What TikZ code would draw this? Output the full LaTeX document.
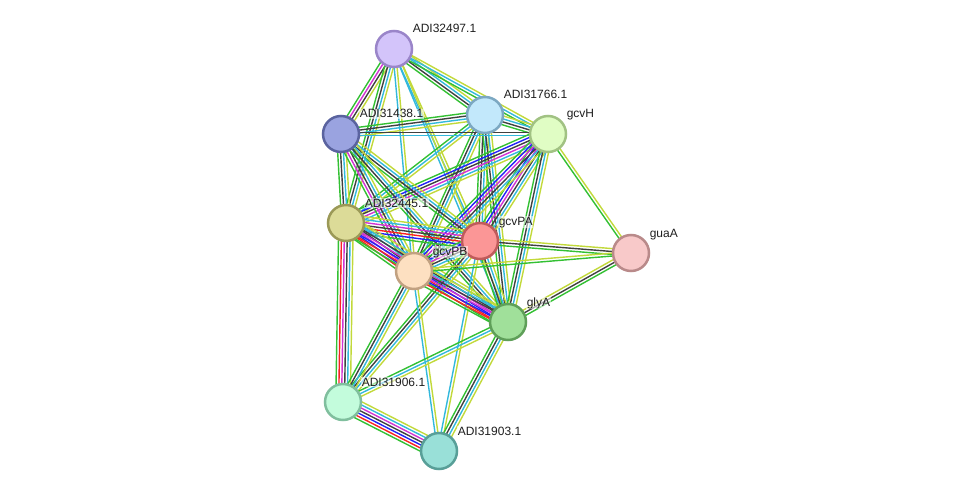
\documentclass[tikz,border=0pt]{standalone}
\usepackage{fontspec}
\setmainfont{Liberation Sans}
\usetikzlibrary{calc,backgrounds}

\definecolor{grn}{HTML}{33C033}
\definecolor{blk}{HTML}{404040}
\definecolor{cya}{HTML}{33B8DC}
\definecolor{ylw}{HTML}{C2D93A}
\definecolor{mag}{HTML}{D233D2}
\definecolor{blu}{HTML}{2222F8}
\definecolor{rd}{HTML}{F82222}

% one STRING link: a bundle of parallel lines, one per evidence colour
\newcommand{\link}[3]{%
  \foreach \c [count=\k] in {#3} {\xdef\nlines{\k}}%
  \foreach \c [count=\k] in {#3} {%
    \pgfmathsetmacro{\off}{(\k-(\nlines+1)/2)*2.9}%
    \draw[color=\c, line width=1.4pt] ($(#1)!\off pt!90:(#2)$) -- ($(#2)!\off pt!-90:(#1)$);
  }%
}

\begin{document}
\begin{tikzpicture}[x=1pt,y=-1pt]
		\tikzstyle{node}=[circle,line width=2.5pt,minimum size=36pt,inner sep=0pt]
		\tikzstyle{lbl}=[anchor=base west,xshift=-1.25pt,yshift=16pt,inner sep=0.6pt,
		                 fill=white,fill opacity=0.55,text opacity=1,
		                 font=\fontsize{12}{14}\selectfont,text=black!88]

		\useasboundingbox (0,0) rectangle (976,497);

		 \node [node,fill={rgb,255:red,211;green,196;blue,250},draw={rgb,255:red,154;green,133;blue,201},
		        label={[lbl]0:ADI32497.1}] (p32497) at (394,49) {};
		 \node [node,fill={rgb,255:red,194;green,232;blue,251},draw={rgb,255:red,124;green,168;blue,194},
		        label={[lbl]0:ADI31766.1}] (p31766) at (485,115) {};
		 \node [node,fill={rgb,255:red,224;green,253;blue,196},draw={rgb,255:red,161;green,194;blue,131},
		        label={[lbl]0:gcvH}] (gcvH) at (548,134) {};
		 \node [node,fill={rgb,255:red,154;green,163;blue,224},draw={rgb,255:red,90;green,99;blue,159},
		        label={[lbl]0:ADI31438.1}] (p31438) at (341,134) {};
		 \node [node,fill={rgb,255:red,220;green,219;blue,152},draw={rgb,255:red,155;green,153;blue,87},
		        label={[lbl]0:ADI32445.1}] (p32445) at (346,223) {};
		 \node [node,fill={rgb,255:red,251;green,150;blue,150},draw={rgb,255:red,192;green,91;blue,91},
		        label={[lbl]0:gcvPA}] (gcvPA) at (480,241) {};
		 \node [node,fill={rgb,255:red,253;green,224;blue,193},draw={rgb,255:red,193;green,161;blue,129},
		        label={[lbl]0:gcvPB}] (gcvPB) at (414,271) {};
		 \node [node,fill={rgb,255:red,248;green,201;blue,201},draw={rgb,255:red,185;green,138;blue,138},
		        label={[lbl]0:guaA}] (guaA) at (631,253) {};
		 \node [node,fill={rgb,255:red,160;green,224;blue,154},draw={rgb,255:red,95;green,159;blue,89},
		        label={[lbl]0:glyA}] (glyA) at (508,322) {};
		 \node [node,fill={rgb,255:red,195;green,252;blue,220},draw={rgb,255:red,128;green,191;blue,158},
		        label={[lbl]0:ADI31906.1}] (p31906) at (343,402) {};
		 \node [node,fill={rgb,255:red,153;green,224;blue,216},draw={rgb,255:red,88;green,159;blue,152},
		        label={[lbl]0:ADI31903.1}] (p31903) at (439,451) {};

		\begin{pgfonlayer}{background}
		 \link{p32497}{p31438}{grn,mag,blk,ylw}
		 \link{p32497}{p32445}{grn,blk,cya,ylw}
		 \link{p32497}{gcvPB}{cya,ylw}
		 \link{p32497}{gcvPA}{cya,ylw}
		 \link{p32497}{glyA}{cya,ylw}
		 \link{p32497}{p31766}{grn,blk,cya,ylw}
		 \link{p32497}{gcvH}{grn,cya,ylw}

		 \link{p31766}{p31438}{grn,blk,cya,ylw}
		 \link{p31766}{gcvH}{grn,blk,cya,ylw}
		 \link{p31766}{p32445}{grn,cya,ylw}
		 \link{p31766}{gcvPA}{grn,blk,cya,ylw}
		 \link{p31766}{gcvPB}{grn,blk,cya,ylw}
		 \link{p31766}{glyA}{grn,blk,cya,ylw}

		 \link{gcvH}{p31438}{blk,cya}
		 \link{gcvH}{p32445}{grn,blu,blk,mag,cya,ylw}
		 \link{gcvH}{gcvPA}{grn,blu,mag,blk,cya,ylw}
		 \link{gcvH}{gcvPB}{grn,blu,mag,blk,cya,ylw}
		 \link{gcvH}{glyA}{grn,blk,cya,ylw}
		 \link{gcvH}{guaA}{grn,ylw}

		 \link{p31438}{p32445}{grn,blk,cya,ylw}
		 \link{p31438}{gcvPA}{grn,blk,cya,ylw}
		 \link{p31438}{gcvPB}{grn,mag,blk,cya,ylw}
		 \link{p31438}{glyA}{grn,blk,cya,ylw}

		 \link{p32445}{gcvPA}{grn,blu,rd,blk,mag,cya,ylw}
		 \link{p32445}{gcvPB}{grn,rd,blu,mag,blk,cya,ylw}
		 \link{p32445}{glyA}{grn,rd,blu,mag,blk,cya,ylw}
		 \link{p32445}{p31906}{grn,rd,mag,blk,cya,ylw}

		 \link{gcvPA}{gcvPB}{grn,blu,mag,blk,cya,ylw}
		 \link{gcvPA}{glyA}{grn,blk,cya,ylw}
		 \link{gcvPA}{guaA}{grn,blk,ylw}
		 \link{gcvPA}{p31906}{grn,blk,cya,ylw}
		 \link{gcvPA}{p31903}{cya,ylw}

		 \link{gcvPB}{glyA}{grn,rd,blu,mag,blk,cya,ylw}
		 \link{gcvPB}{guaA}{grn,ylw}
		 \link{gcvPB}{p31906}{grn,blk,cya,ylw}
		 \link{gcvPB}{p31903}{cya,ylw}

		 \link{glyA}{guaA}{grn,blk,ylw}
		 \link{glyA}{p31906}{grn,cya,ylw}
		 \link{glyA}{p31903}{grn,blk,cya,ylw}

		 \link{p31906}{p31903}{grn,rd,blu,blk,mag,cya,ylw}
		\end{pgfonlayer}

	\end{tikzpicture}
\end{document}
